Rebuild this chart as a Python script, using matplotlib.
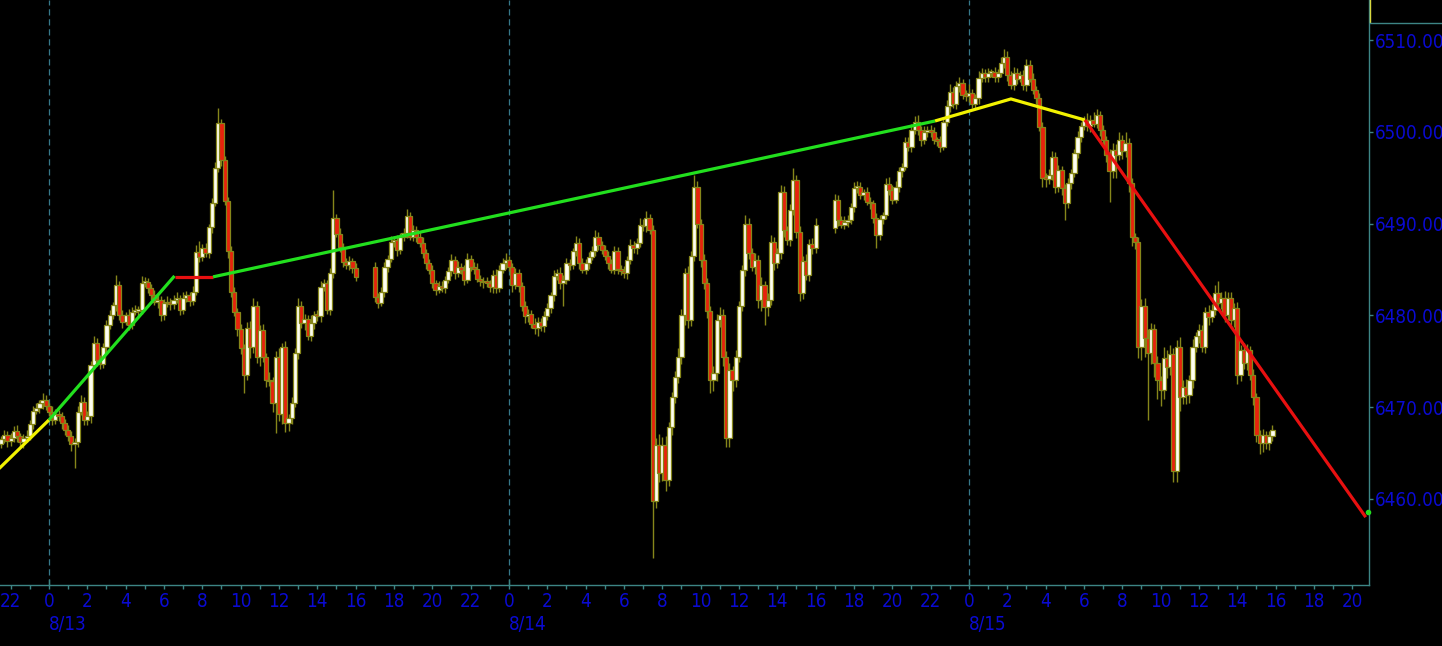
import matplotlib
matplotlib.use('Agg')
import matplotlib.pyplot as plt
import matplotlib.transforms as mtransforms
import numpy as np

plt.rcParams['font.family'] = ['DejaVu Sans']
plt.rcParams['font.stretch'] = 'condensed'

W, H, DPI = 1442, 646, 100

# ---------------- data (10-minute ES bars, hours relative to 8/13 00:00) -------------
bar_minutes = 10
session_starts = [-2.5, 17.0, 41.0]
session_opens = [6466.0, 6485.3, 6489.5]

closes_s1 = [6466.5, 6467.0, 6466.3, 6466.6, 6467.4, 6466.8, 6466.2, 6466.6, 6466.9, 6468.2,
             6469.6, 6469.9, 6470.4, 6470.8, 6470.1, 6469.5, 6468.6, 6469.3, 6469.0, 6468.3,
             6467.5, 6466.9, 6466.0, 6466.2, 6469.5, 6470.6, 6468.6, 6469.0, 6474.6, 6477.0,
             6475.1, 6474.7, 6476.6, 6479.0, 6480.0, 6481.1, 6483.3, 6480.0, 6479.3, 6480.0,
             6479.0, 6480.4, 6480.5, 6480.6, 6483.5, 6483.6, 6483.0, 6482.2, 6481.5, 6481.7,
             6480.0, 6481.3, 6481.5, 6481.2, 6481.7, 6481.8, 6480.6, 6481.9, 6482.2, 6481.6,
             6482.6, 6486.9, 6486.4, 6487.3, 6486.8, 6489.6, 6492.3, 6496.1, 6501.0, 6496.9,
             6492.5, 6487.0, 6482.6, 6480.4, 6478.5, 6476.4, 6473.5, 6478.6, 6476.5, 6481.0,
             6475.5, 6478.4, 6475.5, 6473.0, 6472.8, 6470.4, 6475.5, 6469.3, 6476.5, 6468.3,
             6468.8, 6470.5, 6475.9, 6481.0, 6479.2, 6479.6, 6477.8, 6479.2, 6480.0, 6479.9,
             6483.1, 6483.5, 6480.6, 6484.6, 6490.6, 6488.9, 6487.5, 6485.8, 6485.5, 6485.9,
             6485.2, 6484.2]
upper_s1 = [0.4, 0.5, 0.4, 0.6, 0.5, 0.7, 0.4, 0.5, 0.6, 0.4, 0.5, 0.6, 0.4, 0.7, 0.5, 0.4, 0.6, 0.5, 0.4, 0.5,
            0.4, 0.6, 0.5, 0.4, 0.6, 0.7, 0.5, 0.6, 0.4, 0.8, 0.5, 0.6, 0.4, 0.5, 0.6, 0.4, 1.1, 0.5, 0.6, 0.4,
            0.7, 0.5, 0.6, 0.4, 0.8, 0.6, 0.5, 0.4, 0.6, 0.5, 0.4, 0.5, 0.6, 0.4, 0.5, 0.7, 0.4, 0.6, 0.5, 0.4,
            0.6, 0.8, 1.2, 0.5, 0.6, 0.4, 0.5, 0.6, 1.6, 0.4, 0.5, 0.4, 0.6, 0.5, 0.4, 0.6, 0.5, 0.7, 0.8, 0.9,
            0.6, 0.5, 0.7, 0.4, 0.8, 0.5, 0.6, 0.9, 0.5, 0.7, 0.4, 0.6, 0.5, 0.9, 0.6, 0.5, 0.4, 0.8, 0.5, 0.6,
            0.7, 0.5, 0.4, 0.6, 3.1, 0.5, 0.6, 0.4, 0.5, 0.6, 0.4, 0.5]
lower_s1 = [0.5, 0.4, 0.6, 0.5, 0.4, 0.6, 0.5, 0.7, 0.4, 0.5, 0.6, 0.4, 0.5, 0.6, 0.4, 0.5, 0.6, 0.4, 0.5, 0.7,
            0.5, 0.6, 0.8, 2.6, 0.5, 0.4, 0.6, 0.5, 0.7, 0.5, 0.6, 0.5, 0.4, 0.6, 0.5, 0.4, 0.6, 0.5, 0.7, 0.4,
            0.6, 0.5, 0.4, 0.6, 0.5, 0.4, 0.6, 0.5, 0.4, 0.7, 0.6, 0.5, 0.4, 0.6, 0.5, 0.4, 0.6, 0.5, 0.4, 0.6,
            0.5, 0.4, 0.6, 0.5, 0.4, 0.5, 0.6, 0.4, 0.5, 0.6, 0.5, 0.7, 0.6, 0.5, 0.8, 0.6, 2.0, 0.5, 1.2, 0.6,
            0.7, 1.0, 0.6, 0.8, 0.5, 0.9, 3.2, 0.8, 1.1, 1.0, 0.9, 0.6, 0.5, 0.7, 0.6, 0.8, 0.5, 0.6, 0.7, 0.5,
            0.6, 0.4, 0.5, 0.6, 0.5, 0.4, 0.6, 0.5, 0.4, 0.5, 0.6, 0.5]

closes_s2 = [6482.0, 6481.4, 6482.5, 6485.3, 6486.2, 6488.0, 6488.2, 6487.1, 6488.6, 6489.0,
             6490.8, 6488.6, 6489.3, 6488.6, 6487.9, 6486.8, 6485.7, 6484.9, 6483.5, 6482.8,
             6483.2, 6483.0, 6483.9, 6484.8, 6486.0, 6484.6, 6485.3, 6485.0, 6483.9, 6486.2,
             6485.3, 6485.1, 6484.0, 6483.7, 6483.6, 6483.5, 6483.1, 6484.4, 6483.0, 6485.0,
             6485.7, 6486.0, 6485.3, 6483.3, 6484.6, 6483.2, 6481.0, 6479.9, 6480.2, 6479.1,
             6478.6, 6479.3, 6478.8, 6479.9, 6480.8, 6482.2, 6484.3, 6484.6, 6483.5, 6483.9,
             6485.7, 6485.5, 6487.0, 6487.9, 6485.7, 6485.0, 6485.7, 6486.4, 6487.0, 6488.6,
             6487.7, 6487.1, 6486.5, 6485.7, 6485.0, 6487.0, 6485.1, 6484.8, 6484.6, 6486.0,
             6487.7, 6487.3, 6487.9, 6489.9, 6489.7, 6490.6, 6489.3, 6459.8, 6465.9, 6462.8,
             6465.9, 6462.1, 6467.8, 6471.1, 6473.3, 6475.5, 6480.0, 6484.6, 6479.5, 6486.5,
             6494.0, 6490.0, 6486.0, 6483.5, 6480.5, 6473.0, 6473.7, 6479.5, 6480.0, 6475.5,
             6466.6, 6474.0, 6473.0, 6475.5, 6481.0, 6485.0, 6490.0, 6486.8, 6485.3, 6486.0,
             6481.7, 6483.3, 6480.9, 6481.7, 6488.0, 6485.7, 6486.8, 6493.5, 6489.3, 6488.2,
             6491.5, 6494.8, 6489.1, 6482.4, 6485.9, 6484.4, 6487.8, 6487.3, 6489.9]
upper_s2 = [0.5, 0.4, 0.6, 0.5, 0.4, 0.7, 0.5, 0.6, 0.4, 0.5, 0.8, 0.5, 0.6, 0.4, 0.5, 0.6, 0.4, 0.5, 0.6, 0.4,
            0.5, 0.6, 0.4, 0.5, 0.7, 0.5, 0.6, 0.4, 0.5, 0.6, 0.4, 0.5, 0.6, 0.4, 0.5, 0.6, 0.4, 0.5, 0.7, 0.5,
            0.6, 0.8, 0.5, 0.4, 0.6, 0.5, 0.4, 0.6, 0.5, 0.4, 0.6, 0.5, 0.4, 0.6, 0.5, 0.4, 0.6, 0.5, 0.7, 0.5,
            0.6, 0.5, 0.4, 0.8, 0.5, 0.6, 0.4, 0.5, 0.6, 0.7, 0.5, 0.4, 0.6, 0.5, 0.4, 0.6, 0.5, 0.4, 0.6, 0.5,
            0.6, 0.4, 0.5, 0.7, 0.6, 0.8, 0.5, 0.6, 0.7, 1.2, 0.8, 1.0, 0.6, 0.5, 0.6, 0.9, 0.7, 0.6, 0.8, 0.5,
            1.3, 0.6, 0.5, 0.7, 0.6, 0.5, 0.8, 0.6, 0.9, 0.7, 0.6, 0.8, 0.5, 0.7, 0.6, 0.5, 0.9, 0.6, 0.5, 0.8,
            0.6, 0.9, 0.5, 0.7, 0.8, 0.6, 0.5, 0.7, 0.6, 0.5, 0.6, 1.3, 0.5, 0.7, 0.6, 0.8, 0.5, 0.6, 0.7]
lower_s2 = [0.5, 0.6, 0.4, 0.5, 0.6, 0.4, 0.5, 0.6, 0.4, 0.5, 0.6, 0.4, 0.5, 0.6, 0.4, 0.5, 0.6, 0.4, 0.5, 0.6,
            0.4, 0.5, 0.6, 0.4, 0.5, 0.6, 0.4, 0.5, 0.6, 0.4, 0.5, 0.6, 0.4, 0.5, 0.6, 0.4, 0.5, 0.7, 0.6, 0.5,
            0.4, 0.6, 0.5, 0.7, 0.4, 0.6, 0.5, 0.7, 0.6, 0.5, 0.6, 0.8, 0.5, 0.6, 0.4, 0.5, 0.6, 0.4, 0.6, 2.5,
            0.5, 0.6, 0.4, 0.5, 0.6, 0.4, 0.5, 0.6, 0.4, 0.5, 0.6, 0.4, 0.5, 0.6, 0.4, 0.5, 0.6, 0.4, 0.5, 0.6,
            0.4, 0.5, 0.6, 0.4, 0.5, 0.6, 0.4, 6.3, 0.8, 1.0, 0.9, 1.2, 0.7, 0.8, 0.6, 0.7, 0.8, 1.0, 0.9, 0.7,
            0.6, 0.5, 0.7, 0.6, 0.8, 1.5, 1.2, 0.9, 0.8, 1.0, 1.0, 0.9, 1.2, 0.8, 0.6, 0.5, 0.7, 0.6, 0.5, 0.8,
            0.9, 1.2, 2.0, 1.0, 0.6, 0.8, 0.5, 0.6, 0.7, 0.5, 0.6, 0.5, 0.7, 0.8, 0.6, 0.5, 0.7, 0.6, 0.5]

closes_s3 = [6492.6, 6490.4, 6489.9, 6490.2, 6490.4, 6491.8, 6493.9, 6494.0, 6493.1, 6493.4,
             6492.4, 6492.2, 6490.6, 6488.8, 6490.5, 6490.9, 6494.3, 6493.7, 6492.6, 6494.0,
             6495.7, 6496.2, 6498.9, 6498.4, 6500.2, 6501.1, 6500.2, 6499.1, 6500.0, 6500.2,
             6500.0, 6499.1, 6499.0, 6498.4, 6501.1, 6502.8, 6504.4, 6503.0, 6505.0, 6505.3,
             6504.0, 6503.9, 6504.2, 6503.0, 6503.7, 6505.9, 6506.4, 6506.0, 6506.4, 6506.5,
             6506.0, 6506.4, 6507.5, 6508.2, 6506.2, 6505.1, 6506.4, 6505.8, 6506.2, 6505.1,
             6507.3, 6505.8, 6504.6, 6503.7, 6500.5, 6495.0, 6494.9, 6495.3, 6497.3, 6494.0,
             6495.8, 6493.9, 6492.2, 6494.4, 6495.5, 6497.7, 6499.5, 6500.6, 6501.3, 6500.6,
             6501.3, 6500.9, 6501.8, 6500.2, 6499.1, 6497.5, 6495.7, 6498.0, 6497.5, 6499.1,
             6497.9, 6498.8, 6494.4, 6488.6, 6488.0, 6476.6, 6481.0, 6477.5, 6475.9, 6478.5,
             6474.8, 6472.9, 6471.9, 6475.3, 6474.4, 6475.8, 6463.0, 6476.5, 6471.1, 6472.2,
             6471.3, 6472.9, 6476.6, 6477.7, 6478.4, 6476.5, 6480.4, 6479.8, 6480.6, 6482.4,
             6481.3, 6481.9, 6480.0, 6481.9, 6479.5, 6480.8, 6473.5, 6476.2, 6474.8, 6476.2,
             6473.5, 6471.1, 6467.0, 6466.1, 6467.0, 6466.1, 6466.9, 6467.5]
upper_s3 = [0.6, 0.5, 0.4, 0.6, 0.5, 0.4, 0.6, 0.7, 0.5, 0.4, 0.6, 0.5, 0.4, 0.6, 0.5, 0.4, 0.7, 0.8, 0.5, 0.6,
            0.5, 0.4, 0.6, 0.5, 0.7, 0.6, 0.8, 0.5, 0.6, 0.4, 0.6, 0.5, 0.4, 0.6, 0.5, 0.7, 0.8, 0.5, 0.6, 0.7,
            0.5, 0.6, 1.0, 0.5, 0.4, 0.7, 0.6, 0.5, 0.6, 0.4, 0.6, 0.5, 0.7, 0.8, 0.6, 0.5, 0.7, 0.6, 0.5, 0.6,
            0.7, 0.5, 0.6, 0.4, 0.5, 0.6, 0.5, 0.7, 0.6, 0.5, 0.6, 0.5, 0.4, 0.6, 0.5, 0.4, 0.6, 0.5, 0.4, 0.8,
            0.6, 0.9, 0.7, 0.5, 0.6, 0.5, 0.6, 0.8, 0.7, 0.9, 0.6, 1.2, 0.5, 0.6, 0.4, 0.5, 0.8, 0.9, 1.0, 0.7,
            0.6, 0.8, 0.5, 1.2, 0.9, 1.0, 0.6, 0.8, 1.1, 0.7, 0.9, 0.6, 0.8, 0.5, 0.7, 0.6, 0.5, 0.7, 0.6, 0.9,
            1.3, 0.6, 0.8, 0.7, 0.6, 0.5, 0.7, 0.6, 0.8, 0.7, 0.5, 0.6, 0.4, 0.5, 0.6, 0.4, 0.5, 0.6]
lower_s3 = [0.5, 0.6, 0.4, 0.5, 0.6, 0.4, 0.5, 0.6, 0.4, 0.5, 0.4, 0.6, 0.5, 1.4, 0.6, 0.5, 0.4, 0.6, 0.5, 0.4,
            0.5, 0.6, 0.4, 0.5, 0.6, 0.4, 0.5, 0.6, 0.4, 0.5, 0.6, 0.4, 0.5, 0.6, 0.4, 0.5, 0.6, 0.4, 0.5, 0.6,
            0.4, 0.5, 0.6, 0.4, 0.5, 0.6, 0.4, 0.5, 0.6, 0.4, 0.5, 0.6, 0.4, 0.5, 0.6, 0.4, 0.5, 0.6, 0.4, 0.5,
            0.6, 0.4, 0.5, 0.6, 0.4, 1.0, 0.9, 0.6, 0.5, 0.7, 0.6, 0.8, 1.8, 0.5, 0.6, 0.4, 0.5, 0.6, 0.4, 0.5,
            0.6, 0.4, 0.5, 0.6, 0.4, 0.8, 3.3, 0.7, 2.5, 0.6, 0.8, 0.6, 0.9, 1.0, 0.8, 1.2, 1.5, 2.0, 7.3, 1.2,
            1.5, 2.0, 1.8, 1.0, 1.2, 0.9, 1.2, 1.2, 1.5, 0.8, 1.0, 0.9, 0.8, 0.6, 0.7, 0.5, 0.6, 0.8, 0.5, 0.6,
            0.5, 0.6, 0.7, 0.5, 0.6, 0.8, 1.0, 0.7, 0.6, 0.8, 0.6, 0.9, 0.8, 1.2, 1.0, 0.7, 0.8, 0.6]

# trend (zig-zag) lines: (hour, price) vertices and colour
trend_segments = [
    ([-2.6, 0.0], [6463.3, 6468.6], '#f2f200'),
    ([0.0, 6.55], [6468.6, 6484.3], '#22e01e'),
    ([6.55, 8.56], [6484.2, 6484.2], '#e81010'),
    ([8.56, 46.23], [6484.2, 6501.2], '#22e01e'),
    ([46.23, 50.19, 54.05], [6501.2, 6503.6, 6501.3], '#f2f200'),
    ([54.05, 68.70], [6501.3, 6458.0], '#e81010'),
]
last_marker = (68.8, 6458.6)

day_starts = [0, 24, 48]
day_labels = ['8/13', '8/14', '8/15']
hour_ticks = list(range(-2, 69, 2))
price_ticks = [6460, 6470, 6480, 6490, 6500, 6510]

# ---------------- assemble OHLC ----------------
t, o, hi, lo, c = [], [], [], [], []
for start, first_open, cl, uw, lw in zip(session_starts, session_opens,
                                          [closes_s1, closes_s2, closes_s3],
                                          [upper_s1, upper_s2, upper_s3],
                                          [lower_s1, lower_s2, lower_s3]):
    prev = first_open
    for i, (cc, u, d) in enumerate(zip(cl, uw, lw)):
        t.append(start + i * bar_minutes / 60.0)
        o.append(prev)
        c.append(cc)
        hi.append(max(prev, cc) + u)
        lo.append(min(prev, cc) - d)
        prev = cc
t, o, hi, lo, c = map(np.array, (t, o, hi, lo, c))

# ---------------- styling ----------------
BG = 'black'
TEAL = '#3d8585'
BLUE = '#0a0ad2'
EDGE = '#86861a'
UPC = '#fffff0'
DNC = '#e8220c'
FS = 13.5

fig = plt.figure(figsize=(W / DPI, H / DPI), dpi=DPI, facecolor=BG)
ax = fig.add_axes([0, 61 / H, 1369 / W, 585 / H])
ax.set_facecolor(BG)
ax.set_xlim(-2.556, 68.87)
ax.set_ylim(6450.6, 6514.39)

for d in day_starts:
    ax.axvline(d, color='#36788a', lw=0.9, ls=(0, (5, 3)), zorder=1)

ax.vlines(t, lo, hi, color=EDGE, lw=1.0, zorder=2)
body_bottom = np.minimum(o, c)
body_height = np.maximum(np.abs(c - o), 0.2)
colors = np.where(c >= o, UPC, DNC)
ax.bar(t, body_height, width=0.22, bottom=body_bottom, color=colors,
       edgecolor=EDGE, linewidth=0.9, zorder=3, align='center')

for xs, ys, col in trend_segments:
    ax.plot(xs, ys, color=col, lw=2.3, solid_capstyle='butt', solid_joinstyle='miter', zorder=4)
ax.plot([last_marker[0]], [last_marker[1]], marker='o', ms=3, color='#22e01e', zorder=5, clip_on=False)

# spines
for s in ['top', 'left']:
    ax.spines[s].set_visible(False)
for s in ['right', 'bottom']:
    ax.spines[s].set_color(TEAL)
    ax.spines[s].set_linewidth(1.0)

# y axis on right (labels run off the right edge, as in the source chart)
ax.yaxis.tick_right()
ax.set_yticks(price_ticks)
ax.set_yticklabels([f'{v:.3f}' for v in price_ticks])
ax.tick_params(axis='y', which='both', direction='out', length=3, width=1, color=TEAL,
               labelcolor=BLUE, labelsize=FS, pad=1)

# x axis
ax.set_xticks(hour_ticks)
ax.set_xticklabels([str(hh % 24) for hh in hour_ticks])
ax.set_xticks(list(range(-2, 69)), minor=True)
ax.tick_params(axis='x', which='both', direction='out', length=3, width=1, color=TEAL,
               labelcolor=BLUE, labelsize=FS, pad=2)

blend = mtransforms.blended_transform_factory(ax.transData, ax.transAxes)
for d, lab in zip(day_starts, day_labels):
    ax.plot([d, d], [0, 5 / 585], color=TEAL, lw=1, transform=blend, clip_on=False, zorder=5)
    ax.text(d, -40 / 585, lab, transform=blend, ha='left', va='center', color=BLUE, fontsize=FS)

# right panel frame pieces
fig.add_artist(plt.Line2D([1369.5 / W, 1369.5 / W], [1 - 22 / H, 1.0], color='#d8d840', lw=1.0))
fig.add_artist(plt.Line2D([1370 / W, 1.0], [1 - 22.5 / H, 1 - 22.5 / H], color=TEAL, lw=1.0))

fig.savefig('out.png', dpi=DPI, facecolor=BG)
